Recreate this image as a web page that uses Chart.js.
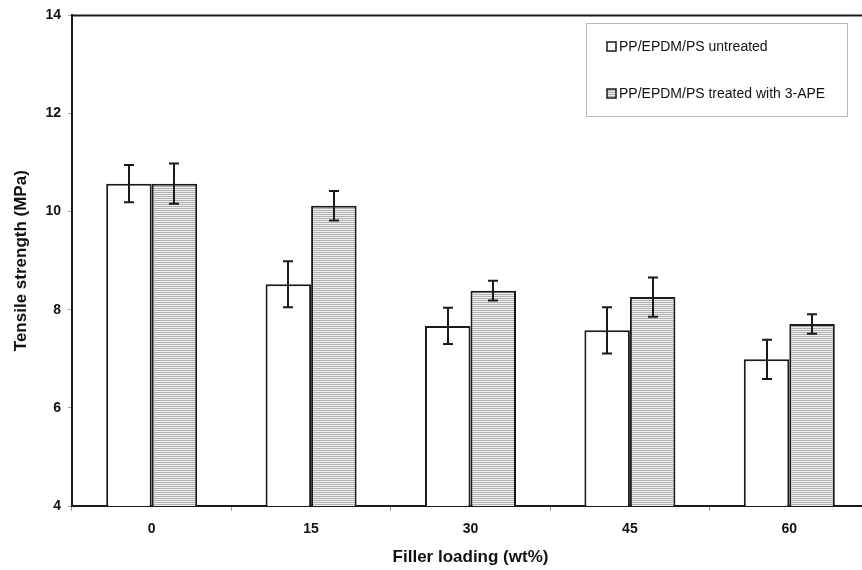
<!DOCTYPE html>
<html>
<head>
<meta charset="utf-8">
<script src="https://cdn.jsdelivr.net/npm/chart.js@4"></script>
<style>
  html, body { margin: 0; padding: 0; background: #fff; overflow: hidden; }
  #wrap { width: 880px; height: 570px; position: relative; }
</style>
</head>
<body>
<div id="wrap"><canvas id="chart"></canvas></div>
<script>
// Filler loading levels (wt%)
const loadings = ['0', '15', '30', '45', '60'];

// Tensile strength (MPa) and standard deviations
const untreated   = [10.57, 8.52, 7.67, 7.58, 6.99];
const untreatedSD = [0.38, 0.47, 0.37, 0.47, 0.40];
const treated     = [10.57, 10.12, 8.39, 8.26, 7.71];
const treatedSD   = [0.41, 0.30, 0.20, 0.40, 0.20];

const seriesNames = ['PP/EPDM/PS untreated', 'PP/EPDM/PS treated with 3-APE'];
const yTicks = [4, 6, 8, 10, 12, 14];

const FONT = '"Liberation Sans", Arial, Helvetica, sans-serif';
const INK = '#1a1a1a';

// Horizontal hatch fill for the treated series
function hatchPattern() {
  const c = document.createElement('canvas');
  c.width = 4; c.height = 2;
  const g = c.getContext('2d');
  g.fillStyle = '#efefef'; g.fillRect(0, 0, 4, 2);
  g.fillStyle = '#b0b0b0'; g.fillRect(0, 0, 4, 1);
  return g.createPattern(c, 'repeat');
}
const hatch = hatchPattern();

// Error bars from the SD arrays
const errorBars = {
  id: 'errorBars',
  afterDatasetsDraw(chart) {
    const ctx = chart.ctx, y = chart.scales.y;
    const sds = [untreatedSD, treatedSD];
    ctx.save();
    ctx.strokeStyle = INK;
    ctx.lineWidth = 2;
    chart.data.datasets.forEach((ds, i) => {
      chart.getDatasetMeta(i).data.forEach((bar, j) => {
        const v = ds.data[j], sd = sds[i][j];
        const x = Math.round(bar.x);
        const yHi = y.getPixelForValue(v + sd);
        const yLo = y.getPixelForValue(v - sd);
        ctx.beginPath();
        ctx.moveTo(x, yHi); ctx.lineTo(x, yLo);
        ctx.moveTo(x - 5, yHi); ctx.lineTo(x + 5, yHi);
        ctx.moveTo(x - 5, yLo); ctx.lineTo(x + 5, yLo);
        ctx.stroke();
      });
    });
    ctx.restore();
  }
};

// Top frame line and boxed legend
const frameAndLegend = {
  id: 'frameAndLegend',
  afterDraw(chart) {
    const ctx = chart.ctx, a = chart.chartArea;
    ctx.save();
    ctx.strokeStyle = INK;
    ctx.lineWidth = 2;
    ctx.beginPath();
    ctx.moveTo(a.left, a.top); ctx.lineTo(a.right, a.top);
    ctx.stroke();

    // legend box
    const bx = 586.5, by = 23.5, bw = 261, bh = 93;
    ctx.fillStyle = '#fff';
    ctx.fillRect(bx, by, bw, bh);
    ctx.strokeStyle = '#b8b8b8';
    ctx.lineWidth = 1;
    ctx.strokeRect(bx, by, bw, bh);

    const fills = ['#fff', hatch];
    const rows = [46, 93];
    ctx.font = '14px ' + FONT;
    ctx.textBaseline = 'middle';
    ctx.textAlign = 'left';
    seriesNames.forEach((name, i) => {
      const cy = rows[i];
      ctx.fillStyle = fills[i];
      ctx.fillRect(607, cy - 4, 9, 9);
      ctx.strokeStyle = INK;
      ctx.lineWidth = 1.5;
      ctx.strokeRect(607, cy - 4, 9, 9);
      ctx.fillStyle = '#111';
      ctx.fillText(name, 619, cy + 1);
    });
    ctx.restore();
  }
};

new Chart(document.getElementById('chart'), {
  type: 'bar',
  data: {
    labels: loadings,
    datasets: [
      {
        label: seriesNames[0],
        data: untreated,
        backgroundColor: '#ffffff',
        borderColor: INK,
        borderWidth: 2,
        categoryPercentage: 0.571,
        barPercentage: 1.0
      },
      {
        label: seriesNames[1],
        data: treated,
        backgroundColor: hatch,
        borderColor: INK,
        borderWidth: 2,
        categoryPercentage: 0.571,
        barPercentage: 1.0
      }
    ]
  },
  options: {
    responsive: true,
    maintainAspectRatio: false,
    animation: false,
    devicePixelRatio: 1,
    layout: { padding: { left: 0, top: 15, right: 11, bottom: 0 } },
    plugins: {
      legend: { display: false },
      tooltip: { enabled: false }
    },
    scales: {
      x: {
        grid: {
          display: true,
          offset: true,
          drawOnChartArea: false,
          tickLength: 5,
          color: '#9a9a9a'
        },
        border: { display: true, color: INK, width: 2 },
        ticks: {
          padding: 10,
          color: '#111',
          font: { family: FONT, size: 14, weight: 'bold' }
        },
        title: {
          display: true,
          text: 'Filler loading (wt%)',
          color: '#111',
          font: { family: FONT, size: 17, weight: 'bold' },
          padding: { top: 0, bottom: 2 }
        },
        afterFit(scale) { scale.height = 64; }
      },
      y: {
        min: 4,
        max: 14,
        afterBuildTicks(scale) { scale.ticks = yTicks.map(v => ({ value: v })); },
        grid: {
          display: true,
          drawOnChartArea: false,
          tickLength: 4,
          color: '#9a9a9a'
        },
        border: { display: true, color: INK, width: 2 },
        ticks: {
          padding: 7,
          color: '#111',
          font: { family: FONT, size: 14, weight: 'bold' }
        },
        title: {
          display: true,
          text: 'Tensile strength (MPa)',
          color: '#111',
          font: { family: FONT, size: 17, weight: 'bold' },
          padding: { top: 11, bottom: 0 }
        },
        afterFit(scale) { scale.width = 72; }
      }
    }
  },
  plugins: [errorBars, frameAndLegend]
});
</script>
</body>
</html>
